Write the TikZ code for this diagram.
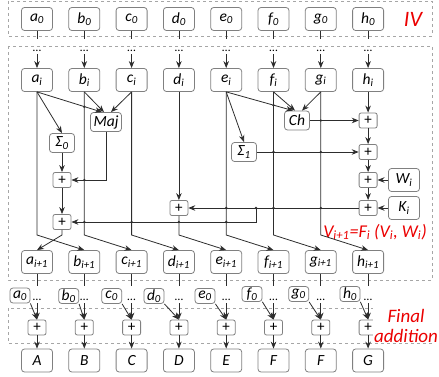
\documentclass[tikz,border=0pt]{standalone}
\usepackage{fontspec}
\setmainfont{Carlito}
\usetikzlibrary{arrows.meta}
\definecolor{lgray}{RGB}{128,128,128}
\definecolor{dgray}{RGB}{45,45,45}
\definecolor{vred}{RGB}{235,0,0}
\newcommand\ix[1]{\textsubscript{#1}}

\begin{document}
\begin{tikzpicture}[x=1pt, y=-1pt, line width=0.8pt,
  box/.style = {draw=lgray, rounded corners=3pt, minimum width=31pt, minimum height=23pt, inner sep=1pt, font=\itshape\fontsize{15.5}{18}\selectfont},
  fn/.style = {box, inner xsep=3pt, minimum width=25pt, minimum height=19pt},
  sbox/.style = {box, minimum width=20pt, minimum height=15pt},
  pl/.style = {draw=lgray, rounded corners=2pt, minimum width=18pt, minimum height=15pt, inner sep=0pt, font=\fontsize{15}{18}\selectfont},
  ell/.style = {inner sep=2pt, font=\fontsize{12}{12}\selectfont},
  arr/.style = {draw=dgray, -{Stealth[length=7pt,width=5.5pt]}},
  wire/.style = {draw=dgray},
  zone/.style = {draw=lgray!70, dashed, line width=0.7pt},
  note/.style = {text=vred, font=\itshape\fontsize{18}{20}\selectfont}]
\useasboundingbox (0,0) rectangle (439,377);
\draw [zone] (8,1) rectangle (432,36); \draw [zone] (8,46) rectangle (432,280); \draw [zone] (8,308) rectangle (432,343);
\node[note, font=\itshape\fontsize{22}{24}\selectfont] (iv) at (413,19) {IV};
\node[box](a0) at (37,19) {a\ix{0}}; \node[box](b0) at (84.3,19) {b\ix{0}}; \node[box](c0) at (131.6,19) {c\ix{0}}; \node[box](d0) at (178.9,19) {d\ix{0}};
\node[box](e0) at (226.2,19) {e\ix{0}}; \node[box](f0) at (273.5,19) {f\ix{0}}; \node[box](g0) at (320.8,19) {g\ix{0}}; \node[box](h0) at (368.1,19) {h\ix{0}};
\node[ell](ta) at (37,51) {\ldots}; \node[ell](tb) at (84.3,51) {\ldots}; \node[ell](tc) at (131.6,51) {\ldots}; \node[ell](td) at (178.9,51) {\ldots};
\node[ell](te) at (226.2,51) {\ldots}; \node[ell](tf) at (273.5,51) {\ldots}; \node[ell](tg) at (320.8,51) {\ldots}; \node[ell](th) at (368.1,51) {\ldots};
\node[box](ai) at (37,80) {a\ix{i}}; \node[box](bi) at (84.3,80) {b\ix{i}}; \node[box](ci) at (131.6,80) {c\ix{i}}; \node[box](di) at (178.9,80) {d\ix{i}};
\node[box](ei) at (226.2,80) {e\ix{i}}; \node[box](fi) at (273.5,80) {f\ix{i}}; \node[box](gi) at (320.8,80) {g\ix{i}}; \node[box](hi) at (368.1,80) {h\ix{i}};
\node[fn](maj) at (106,122) {Maj}; \node[fn](s0) at (62,143) {Σ\ix{0}}; \node[pl](p1) at (62,180) {+}; \node[pl](p2) at (62,222) {+};
\node[pl](pd) at (178.9,208) {+}; \node[fn](ch) at (297,120.5) {Ch}; \node[fn](s1) at (244,152) {Σ\ix{1}};
\node[pl](q1) at (368.1,120.5) {+}; \node[pl](q2) at (368.1,152) {+}; \node[pl](q3) at (368.1,180) {+}; \node[pl](q4) at (368.1,208) {+};
\node[box](w) at (404,180) {W\ix{i}}; \node[box](k) at (404,208) {K\ix{i}};
\node[note](vt) at (375,232) {V\ix{i+1}=F\ix{i} (V\ix{i}, W\ix{i})};
\node[box](a1) at (37,262) {a\ix{i+1}}; \node[box](b1) at (84.3,262) {b\ix{i+1}}; \node[box](c1) at (131.6,262) {c\ix{i+1}}; \node[box](d1) at (178.9,262) {d\ix{i+1}};
\node[box](e1) at (226.2,262) {e\ix{i+1}}; \node[box](f1) at (273.5,262) {f\ix{i+1}}; \node[box](g1) at (320.8,262) {g\ix{i+1}}; \node[box](h1) at (368.1,262) {h\ix{i+1}};
\node[sbox](sa) at (20,295.5) {a\ix{0}}; \node[sbox](sb) at (68.7,296) {b\ix{0}}; \node[sbox](sc) at (111.7,296) {c\ix{0}}; \node[sbox](sd) at (154,296) {d\ix{0}};
\node[sbox](se) at (205,296) {e\ix{0}}; \node[sbox](sf) at (252,294) {f\ix{0}}; \node[sbox](sg) at (298.7,294) {g\ix{0}}; \node[sbox](sh) at (350,294) {h\ix{0}};
\node[ell](ua) at (37,300) {\ldots}; \node[ell](ub) at (84.3,300) {\ldots}; \node[ell](uc) at (131.6,300) {\ldots}; \node[ell](ud) at (178.9,300) {\ldots};
\node[ell](ue) at (226.2,300) {\ldots}; \node[ell](uf) at (273.5,300) {\ldots}; \node[ell](ug) at (320.8,300) {\ldots}; \node[ell](uh) at (368.1,300) {\ldots};
\node[pl](pa) at (37,327.5) {+}; \node[pl](pb) at (84.3,327.5) {+}; \node[pl](pc) at (131.6,327.5) {+}; \node[pl](pe2) at (178.9,327.5) {+};
\node[pl](pe) at (226.2,327.5) {+}; \node[pl](pf) at (273.5,327.5) {+}; \node[pl](pg) at (320.8,327.5) {+}; \node[pl](ph) at (368.1,327.5) {+};
\node[box](oa) at (37,360.5) {A}; \node[box](ob) at (84.3,360.5) {B}; \node[box](oc) at (131.6,360.5) {C}; \node[box](od) at (178.9,360.5) {D};
\node[box](oe) at (226.2,360.5) {E}; \node[box](of) at (273.5,360.5) {F}; \node[box](og) at (320.8,360.5) {F}; \node[box](oh) at (368.1,360.5) {G};
\node[note, font=\itshape\fontsize{19}{20}\selectfont, fill=white, align=center, inner sep=1pt](fa) at (406,325.5) {Final\\addition};
\coordinate (bend) at (0,235); \coordinate (t1) at (256,208);
\draw[wire] (a0.south) -- ++(0,8.5); \draw[wire] (b0.south) -- ++(0,8.5); \draw[wire] (c0.south) -- ++(0,8.5); \draw[wire] (d0.south) -- ++(0,8.5);
\draw[wire] (e0.south) -- ++(0,8.5); \draw[wire] (f0.south) -- ++(0,8.5); \draw[wire] (g0.south) -- ++(0,8.5); \draw[wire] (h0.south) -- ++(0,8.5);
\draw[arr] (ta.south) -- (ai.north); \draw[arr] (tb.south) -- (bi.north); \draw[arr] (tc.south) -- (ci.north); \draw[arr] (td.south) -- (di.north);
\draw[arr] (te.south) -- (ei.north); \draw[arr] (tf.south) -- (fi.north); \draw[arr] (tg.south) -- (gi.north); \draw[arr] (th.south) -- (hi.north);
\draw[arr] (ai.south) -- (ai |- bend) -- (b1.north); \draw[arr] (ai.south) -- (s0.north); \draw[arr] (ai.south) -- ([xshift=-4]maj.north);
\draw[arr] (bi.south) -- (bi |- bend) -- (c1.north); \draw[arr] (bi.south) -- ([xshift=-2]maj.north);
\draw[arr] (ci.south) -- (ci |- bend) -- (d1.north); \draw[arr] (ci.south) -- ([xshift=5]maj.north);
\draw[arr] (maj.south) |- (p1.east); \draw[arr] (s0) -- (p1); \draw[arr] (p1) -- (p2); \draw[arr] (p2.south) -- (p2 |- bend) -- (a1.north);
\draw[arr] (di) -- (pd); \draw[arr] (pd.south) -- (pd |- bend) -- (e1.north);
\draw[arr] (ei.south) -- (ei |- bend) -- (f1.north); \draw[arr] (ei.south) -- (s1.north); \draw[arr] (ei.south) -- ([xshift=-4]ch.north);
\draw[arr] (fi.south) -- (fi |- bend) -- (g1.north); \draw[arr] (fi.south) -- ([xshift=-2]ch.north);
\draw[arr] (gi.south) -- (gi |- bend) -- (h1.north); \draw[arr] (gi.south) -- ([xshift=5]ch.north);
\draw[arr] (hi) -- (q1); \draw[arr] (q1) -- (q2); \draw[arr] (q2) -- (q3); \draw[arr] (q3) -- (q4);
\draw[arr] (ch) -- (q1); \draw[arr] (s1) -- (q2); \draw[arr] (w) -- (q3); \draw[arr] (k) -- (q4);
\draw[arr] (q4) -- (pd); \draw[arr] (t1) |- (p2.east);
\fill[dgray] (84.3,106.8) circle (1.3); \fill[dgray] (273.5,105.3) circle (1.3); \fill[dgray] (84.3,180) circle (1.3); \fill[dgray] (320.8,120.5) circle (1.3);
\fill[dgray] (273.5,152) circle (1.3); \fill[dgray] (320.8,152) circle (1.3);
\fill[dgray] (84.3,222) circle (1.3); \fill[dgray] (131.6,222) circle (1.3); \fill[dgray] (178.9,222) circle (1.3); \fill[dgray] (226.2,222) circle (1.3);
\fill[dgray] (226.2,208) circle (1.3); \fill[dgray] (256,208) circle (1.3); \fill[dgray] (273.5,208) circle (1.3); \fill[dgray] (320.8,208) circle (1.3);
\draw[wire] (a1.south) -- ++(0,12); \draw[wire] (b1.south) -- ++(0,12); \draw[wire] (c1.south) -- ++(0,12); \draw[wire] (d1.south) -- ++(0,12);
\draw[wire] (e1.south) -- ++(0,12); \draw[wire] (f1.south) -- ++(0,12); \draw[wire] (g1.south) -- ++(0,12); \draw[wire] (h1.south) -- ++(0,12);
\draw[arr] (ua.south) -- (pa.north); \draw[arr] (ub.south) -- (pb.north); \draw[arr] (uc.south) -- (pc.north); \draw[arr] (ud.south) -- (pe2.north);
\draw[arr] (ue.south) -- (pe.north); \draw[arr] (uf.south) -- (pf.north); \draw[arr] (ug.south) -- (pg.north); \draw[arr] (uh.south) -- (ph.north);
\draw[arr] (sa.south east) -- (pa.north); \draw[arr] (sb.south east) -- (pb.north); \draw[arr] (sc.south east) -- (pc.north); \draw[arr] (sd.south east) -- (pe2.north);
\draw[arr] (se.south east) -- (pe.north); \draw[arr] (sf.south east) -- (pf.north); \draw[arr] (sg.south east) -- (pg.north); \draw[arr] (sh.south east) -- (ph.north);
\draw[arr] (pa) -- (oa); \draw[arr] (pb) -- (ob); \draw[arr] (pc) -- (oc); \draw[arr] (pe2) -- (od);
\draw[arr] (pe) -- (oe); \draw[arr] (pf) -- (of); \draw[arr] (pg) -- (og); \draw[arr] (ph) -- (oh);
\end{tikzpicture}
\end{document}
